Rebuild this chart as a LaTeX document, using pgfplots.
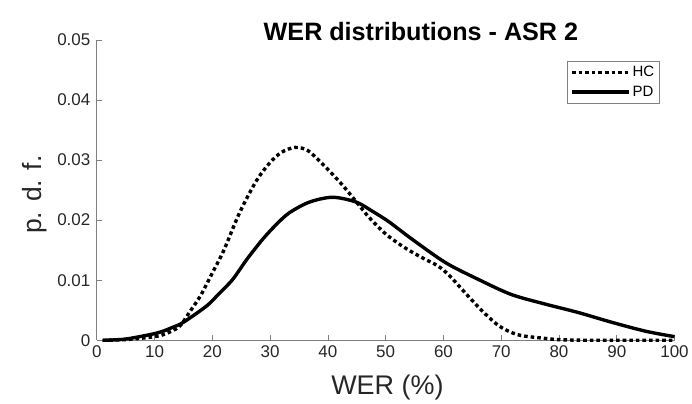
\documentclass[border=0pt]{standalone}
\usepackage{pgfplots}
\pgfplotsset{compat=1.18}
\usepackage{fontspec}
\setmainfont{Liberation Sans}
\definecolor{axgray}{RGB}{128,128,128}
\definecolor{txt}{RGB}{38,38,38}
\begin{document}
\begin{tikzpicture}
\begin{axis}[
  scale only axis, width=579pt, height=301pt,
  xmin=0, xmax=100, ymin=0, ymax=0.05,
  axis x line*=bottom, axis y line*=left,
  axis line style={axgray, line width=0.6pt},
  tick align=inside, major tick length=5pt,
  every tick/.style={axgray, line width=0.6pt},
  xtick={0,10,...,100},
  ytick={0,0.01,0.02,0.03,0.04,0.05},
  scaled y ticks=false,
  yticklabels={0,0.01,0.02,0.03,0.04,0.05},
  /pgf/number format/assume math mode=true,
  ticklabel style={font=\fontsize{17}{19}\selectfont, text=txt},
  xticklabel style={anchor=north, yshift=-2pt},
  yticklabel style={anchor=east, xshift=-3pt},
  xlabel={WER (\%)}, ylabel={p. d. f.},
  xlabel style={font=\fontsize{27}{29}\selectfont, text=txt,
    at={(axis description cs:0.503,0)}, anchor=base, yshift=-54pt},
  ylabel style={font=\fontsize{26.5}{28}\selectfont, text=txt,
    at={(axis description cs:-0.095,0.485)}, anchor=base},
  title={WER distributions - ASR 2},
  title style={font=\bfseries\fontsize{25.2}{27}\selectfont,
    at={(axis description cs:0.561,1)}, anchor=base, yshift=-7pt},
  legend style={at={(axis description cs:0.974,0.930)}, anchor=north east,
    draw=axgray, line width=0.6pt,
    font=\fontsize{15}{17}\selectfont, inner xsep=3pt, inner ysep=3pt, row sep=4pt,
    legend cell align=left},
  legend image code/.code={\draw[#1] (0pt,0pt) -- (53pt,0pt); \path (0pt,0pt) -- (57pt,0pt);},
  clip=false,
]
\addplot[black, line width=3.4pt, dash pattern=on 3.6pt off 3pt, smooth, tension=0.5] coordinates {
(1,0) (5,0.0001) (10,0.0006) (12,0.0011) (14.3,0.0023) (16,0.0046) (18,0.0075)
(20,0.0112) (22,0.0150) (24.7,0.0212) (27.6,0.0265) (30,0.0296) (32,0.0313)
(34.3,0.0321) (36.5,0.0316) (39,0.0294) (42,0.0264) (44.2,0.0239) (47,0.0206)
(50,0.0177) (53,0.0156) (56,0.0139) (59,0.0124) (61,0.0108) (63,0.0087)
(65,0.0066) (67,0.0046) (69.6,0.0024) (72,0.0012) (74,0.0007) (77.7,0.0003)
(80,0.0001) (85,0) (100,0)
};
\addlegendentry{HC}
\addplot[black, line width=3.4pt, smooth, tension=0.5] coordinates {
(1,0) (5,0.0002) (10.4,0.0012) (13,0.0021) (15,0.003) (19,0.0057) (21,0.0076)
(23.5,0.0101) (26,0.0135) (28.7,0.0168) (31,0.0192) (33.3,0.0212) (36.8,0.0230)
(40.8,0.0238) (44.9,0.0230) (48,0.0213) (50.6,0.0197) (54.6,0.0168)
(60.4,0.0129) (66.1,0.0101) (71.8,0.0076) (77.7,0.006) (83.4,0.0046)
(89.1,0.003) (95,0.0015) (100,0.0006)
};
\addlegendentry{PD}
\end{axis}
\path[use as bounding box] (-97pt,-62pt) rectangle (595pt,341pt);
\end{tikzpicture}
\end{document}
